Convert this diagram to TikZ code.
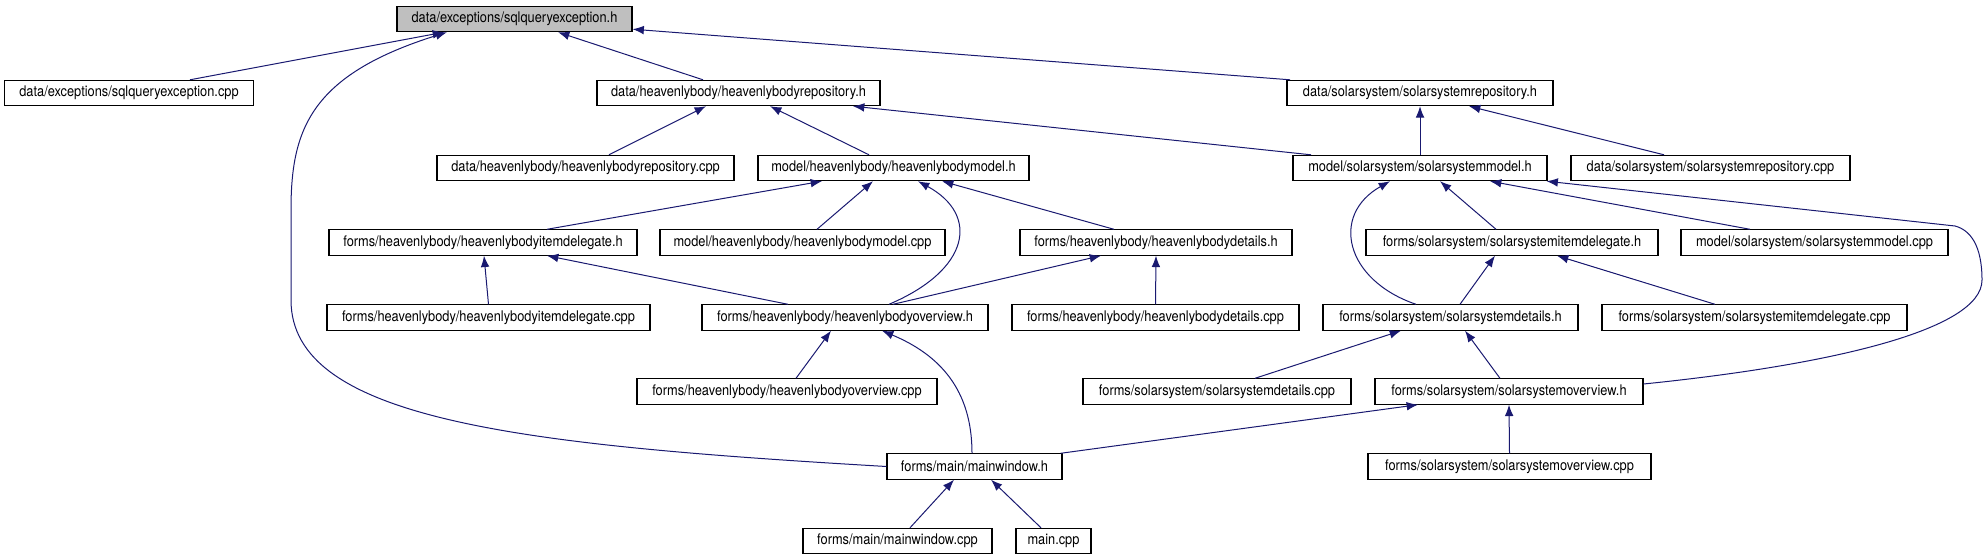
\documentclass[tikz,border=0pt]{standalone}
\usepackage{fontspec}
\setmainfont{TeX Gyre Heros}[FakeStretch=0.873]
\usepackage{tikz}
\usetikzlibrary{arrows.meta, calc}
\definecolor{depblue}{HTML}{191970}
\definecolor{rootgray}{HTML}{BFBFBF}

\begin{document}
\begin{tikzpicture}[
    x=0.75pt, y=-0.75pt,
    file/.style={draw=black, fill=white, line width=0.8pt, inner sep=0pt,
                 minimum width=#1, minimum height=19pt,
                 font=\fontsize{11}{12}\selectfont},
    root/.style={file=#1, fill=rootgray},
    dep/.style={-{Latex[length=8.5pt, width=6.5pt]}, depblue, line width=0.75pt},
]
    \useasboundingbox (0,0) rectangle (1988,560);

    % level 0
    \node[root=176.25pt] (sqlh) at (514.5,19) {data/exceptions/sqlqueryexception.h};

    % level 1
    \node[file=186.75pt] (sqlcpp) at (129,93) {data/exceptions/sqlqueryexception.cpp};
    \node[file=212.25pt] (hbrepoh) at (738.5,93) {data/heavenlybody/heavenlybodyrepository.h};
    \node[file=199.5pt] (ssrepoh) at (1420,93) {data/solarsystem/solarsystemrepository.h};

    % level 2
    \node[file=222.75pt] (hbrepocpp) at (585.5,168) {data/heavenlybody/heavenlybodyrepository.cpp};
    \node[file=203.25pt] (hbmodelh) at (893.5,168) {model/heavenlybody/heavenlybodymodel.h};
    \node[file=190.5pt] (ssmodelh) at (1420,168) {model/solarsystem/solarsystemmodel.h};
    \node[file=209.25pt] (ssrepocpp) at (1710.5,168) {data/solarsystem/solarsystemrepository.cpp};

    % level 3
    \node[file=231pt] (hbitemh) at (483,242.5) {forms/heavenlybody/heavenlybodyitemdelegate.h};
    \node[file=213.75pt] (hbmodelcpp) at (802.5,242.5) {model/heavenlybody/heavenlybodymodel.cpp};
    \node[file=204pt] (hbdetailsh) at (1156,242.5) {forms/heavenlybody/heavenlybodydetails.h};
    \node[file=219pt] (ssitemh) at (1512,242.5) {forms/solarsystem/solarsystemitemdelegate.h};
    \node[file=200.25pt] (ssmodelcpp) at (1814.5,242.5) {model/solarsystem/solarsystemmodel.cpp};

    % level 4
    \node[file=242.25pt] (hbitemcpp) at (488.5,317.5) {forms/heavenlybody/heavenlybodyitemdelegate.cpp};
    \node[file=214.5pt] (hboverh) at (845,317.5) {forms/heavenlybody/heavenlybodyoverview.h};
    \node[file=215.25pt] (hbdetailscpp) at (1155.5,317.5) {forms/heavenlybody/heavenlybodydetails.cpp};
    \node[file=191.25pt] (ssdetailsh) at (1450.5,317.5) {forms/solarsystem/solarsystemdetails.h};
    \node[file=228.75pt] (ssitemcpp) at (1754.5,317.5) {forms/solarsystem/solarsystemitemdelegate.cpp};

    % level 5
    \node[file=225pt] (hbovercpp) at (787,391.5) {forms/heavenlybody/heavenlybodyoverview.cpp};
    \node[file=201pt] (ssdetailscpp) at (1217,391.5) {forms/solarsystem/solarsystemdetails.cpp};
    \node[file=201pt] (ssoverh) at (1509,391.5) {forms/solarsystem/solarsystemoverview.h};

    % level 6
    \node[file=131.25pt] (mainwinh) at (974.5,466.5) {forms/main/mainwindow.h};
    \node[file=212.25pt] (ssovercpp) at (1509.5,466.5) {forms/solarsystem/solarsystemoverview.cpp};

    % level 7
    \node[file=141.75pt] (mainwincpp) at (897.5,541) {forms/main/mainwindow.cpp};
    \node[file=56.25pt] (maincpp) at (1053.5,541) {main.cpp};

    % includes of sqlqueryexception.h
    \draw[dep] ($(sqlcpp.north)+(61,0)$) -- ($(sqlh.south)+(-70.5,0)$);
    \draw[dep] ($(hbrepoh.north)+(-35.5,0)$) -- ($(sqlh.south)+(43.5,0)$);
    \draw[dep] ($(ssrepoh.north)+(-130,0)$) -- ($(sqlh.south east)+(0,-3)$);
    \draw[dep] (mainwinh.west) .. controls (520,445) and (291,420) .. (291,300)
        -- (291,210) .. controls (291,130) and (310,75) .. ($(sqlh.south)+(-67.5,0)$);

    % repositories
    \draw[dep] ($(hbrepocpp.north)+(23.5,0)$) -- ($(hbrepoh.south)+(-32.5,0)$);
    \draw[dep] ($(hbmodelh.north)+(-24.5,0)$) -- ($(hbrepoh.south)+(31.5,0)$);
    \draw[dep] ($(ssmodelh.north)+(-109,0)$) -- ($(hbrepoh.south)+(114.5,0)$);
    \draw[dep] (ssmodelh.north) -- (ssrepoh.south);
    \draw[dep] ($(ssrepocpp.north)+(-46.5,0)$) -- ($(ssrepoh.south)+(49,0)$);

    % heavenlybody model
    \draw[dep] ($(hbitemh.north)+(64,0)$) -- ($(hbmodelh.south)+(-71.5,0)$);
    \draw[dep] ($(hbmodelcpp.north)+(14.5,0)$) -- ($(hbmodelh.south)+(-20.5,0)$);
    \draw[dep] ($(hboverh.north)+(44,0)$) .. controls (970,270) and (980,215)
        .. ($(hbmodelh.south)+(24.5,0)$);
    \draw[dep] ($(hbdetailsh.north)+(-42,0)$) -- ($(hbmodelh.south)+(48.5,0)$);

    % heavenlybody forms
    \draw[dep] (hbitemcpp.north) -- ($(hbitemh.south)+(1,0)$);
    \draw[dep] ($(hboverh.north)+(-57,0)$) -- ($(hbitemh.south)+(64,0)$);
    \draw[dep] ($(hboverh.north)+(48,0)$) -- ($(hbdetailsh.south)+(-55,0)$);
    \draw[dep] (hbdetailscpp.north) -- (hbdetailsh.south);
    \draw[dep] ($(hbovercpp.north)+(9,0)$) -- ($(hboverh.south)+(-14,0)$);
    \draw[dep] ($(mainwinh.north)+(-2.5,0)$) .. controls (972,390) and (940,355)
        .. ($(hboverh.south)+(37,0)$);

    % solarsystem model
    \draw[dep] ($(ssitemh.north)+(-16,0)$) -- ($(ssmodelh.south)+(20,0)$);
    \draw[dep] ($(ssmodelcpp.north)+(-64.5,0)$) -- ($(ssmodelh.south)+(70,0)$);
    \draw[dep] ($(ssoverh.east)+(0,-7.5)$) .. controls (1830,365) and (1982,330) .. (1982,280)
        .. controls (1982,245) and (1970,230) .. (1955,226) -- ($(ssmodelh.south east)+(-1,0)$);
    \draw[dep] ($(ssdetailsh.north)+(-34.5,0)$) .. controls (1345,280) and (1330,215)
        .. ($(ssmodelh.south)+(-30,0)$);

    % solarsystem forms
    \draw[dep] ($(ssdetailsh.north)+(9.5,0)$) -- ($(ssitemh.south)+(-17,0)$);
    \draw[dep] ($(ssitemcpp.north)+(-39.5,0)$) -- ($(ssitemh.south)+(45,0)$);
    \draw[dep] ($(ssdetailscpp.north)+(38,0)$) -- ($(ssdetailsh.south)+(-49.5,0)$);
    \draw[dep] ($(ssoverh.north)+(-9,0)$) -- ($(ssdetailsh.south)+(14.5,0)$);
    \draw[dep] ($(mainwinh.north east)+(-2,0)$) -- ($(ssoverh.south)+(-91,0)$);
    \draw[dep] (ssovercpp.north) -- (ssoverh.south);

    % main window
    \draw[dep] ($(mainwincpp.north)+(12.5,0)$) -- ($(mainwinh.south)+(-20.5,0)$);
    \draw[dep] ($(maincpp.north)+(-12.5,0)$) -- ($(mainwinh.south)+(16.5,0)$);
\end{tikzpicture}
\end{document}
